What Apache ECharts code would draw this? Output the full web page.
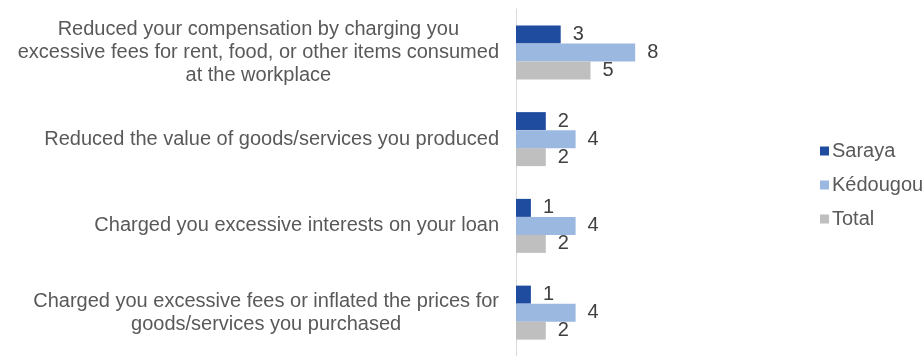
<!DOCTYPE html>
<html>
<head>
<meta charset="utf-8">
<script src="https://cdn.jsdelivr.net/npm/echarts@6/dist/echarts.min.js"></script>
<style>
  html, body { margin: 0; padding: 0; background: #ffffff; }
  #chart { width: 924px; height: 356px; }
</style>
</head>
<body>
<div id="chart"></div>
<script>
// Category labels, pre-wrapped into lines
const categories = [
  'Reduced your compensation by charging you\nexcessive fees for rent, food, or other items consumed\nat the workplace',
  'Reduced the value of goods/services you produced',
  'Charged you excessive interests on your loan',
  'Charged you excessive fees or inflated the prices for\ngoods/services you purchased'
];

const seriesNames = ['Saraya', 'Kédougou', 'Total'];
const saraya = [3, 2, 1, 1];
const kedougou = [8, 4, 4, 4];
const total = [5, 2, 2, 2];

const colors = ['#1F4C9E', '#9BB8E0', '#BFBFBF'];
const FONT = 'Liberation Sans, Arial, sans-serif';

const chart = echarts.init(document.getElementById('chart'), null, { renderer: 'canvas' });

function makeSeries(name, data, color) {
  return {
    name: name,
    type: 'bar',
    data: data,
    barWidth: 18,
    barGap: '0%',
    itemStyle: { color: color },
    label: {
      show: true,
      position: 'right',
      distance: 12,
      color: '#404040',
      fontFamily: FONT,
      fontSize: 20
    },
    animation: false
  };
}

chart.setOption({
  animation: false,
  grid: { left: 516, top: 9, width: 149, height: 352, containLabel: false },
  xAxis: {
    type: 'value',
    min: 0,
    max: 10,
    show: false
  },
  yAxis: {
    type: 'category',
    inverse: true,
    data: categories,
    axisLine: { show: true, lineStyle: { color: '#D9D9D9', width: 1 } },
    axisTick: { show: false },
    axisLabel: {
      align: 'right',
      margin: 17,
      fontFamily: FONT,
      fontSize: 20,
      color: '#595959',
      lineHeight: 23,
      formatter: function (v) {
        // centre each wrapped line inside the right-aligned label block
        return v.split('\n').map(function (l) { return '{c|' + l + '}'; }).join('\n');
      },
      rich: {
        c: { align: 'center', fontFamily: FONT, fontSize: 20, color: '#595959', lineHeight: 23 }
      }
    }
  },
  legend: {
    orient: 'vertical',
    left: 815,
    top: 136,
    itemWidth: 9,
    itemHeight: 9,
    itemGap: 14,
    icon: 'rect',
    textStyle: { fontFamily: FONT, fontSize: 20, color: '#595959', padding: [0, 0, 0, -2] },
    data: seriesNames
  },
  series: [
    makeSeries(seriesNames[0], saraya, colors[0]),
    makeSeries(seriesNames[1], kedougou, colors[1]),
    makeSeries(seriesNames[2], total, colors[2])
  ]
});
</script>
</body>
</html>
